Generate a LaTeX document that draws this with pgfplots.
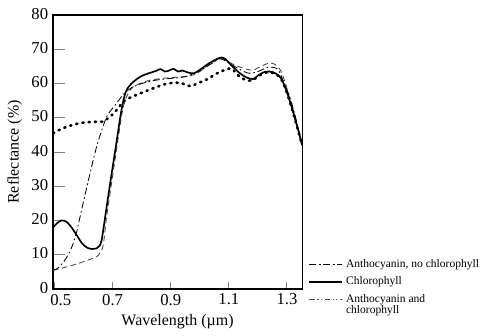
\documentclass[border=0pt]{standalone}
\usepackage{fontspec}
\setmainfont{Liberation Serif}
\usepackage{pgfplots}
\pgfplotsset{compat=1.18}
\begin{document}
\begin{tikzpicture}
\path[use as bounding box] (-38.2pt,-33.8pt) rectangle (311pt,208.1pt);
\begin{axis}[
  scale only axis,
  width=179.3pt, height=197.3pt,
  xmin=0.495, xmax=1.352, ymin=0, ymax=80,
  xtick={0.5,0.7,0.9,1.1,1.3},
  ytick={0,10,20,30,40,50,60,70,80},
  xticklabels={\hphantom{0.}0.5,0.7,0.9,1.1,1.3},
  tick align=inside,
  xtick pos=bottom, ytick pos=left,
  xtick style={/pgfplots/major tick length=5pt, line width=0.7pt},
  ytick style={/pgfplots/major tick length=8.6pt, line width=0.7pt},
  axis line style={line width=0.8pt},
  /pgf/number format/assume math mode=true,
  tick label style={font=\fontsize{12}{14}\selectfont},
  yticklabel style={yshift=1pt},
  label style={font=\fontsize{11.5}{13}\selectfont},
  xlabel={Wavelength (µm)},
  ylabel={Reflectance (\%)},
  legend style={at={(1.024,0.12)}, anchor=north west, draw=none, fill=none,
    font=\fontsize{8.3}{7.6}\selectfont, cells={anchor=west, align=left},
    row sep=1.5pt, inner sep=0pt},
  legend image code/.code={\draw[#1] (0pt,0pt) -- (24pt,0pt);},
]
\addlegendimage{black, line width=0.6pt, dash pattern=on 5pt off 2pt on 1.2pt off 2pt}
\addlegendentry{Anthocyanin, no chlorophyll}
\addlegendimage{black, line width=1.2pt}
\addlegendentry{Chlorophyll}
\addlegendimage{black!70, line width=0.6pt, yshift=3.7pt, dash pattern=on 4pt off 2pt on 0.8pt off 1.5pt on 0.8pt off 2pt}
\addlegendentry{Anthocyanin and\\chlorophyll}

% dotted (no legend entry)
\addplot[forget plot, black, line width=1.9pt, line cap=round, dash pattern=on 0.9pt off 3.6pt, smooth] coordinates {
(0.495,45.5) (0.52,46.6) (0.55,47.6) (0.576,48.2) (0.60,48.6) (0.63,48.8) (0.666,48.9)
(0.68,49.6) (0.70,51.0) (0.714,52.3) (0.741,55.0) (0.769,56.2) (0.80,57.3) (0.852,59.0)
(0.88,59.8) (0.907,60.2) (0.93,60.2) (0.955,59.6) (0.97,59.2) (0.99,60.0) (1.024,61.2)
(1.06,63.0) (1.093,64.2) (1.11,64.3) (1.125,63.0) (1.14,61.8) (1.16,61.0) (1.179,60.9)
(1.20,62.0) (1.22,63.0) (1.24,63.3) (1.26,62.8) (1.28,61.3) (1.30,57.3) (1.32,51.8) (1.34,45.8) (1.352,42)
};
% dashed: Anthocyanin and chlorophyll
\addplot[forget plot, black!75, line width=0.6pt, dash pattern=on 4pt off 2.5pt, smooth] coordinates {
(0.495,5.5) (0.53,6.2) (0.56,6.9) (0.597,7.9) (0.62,8.6) (0.645,9.4) (0.658,10.8)
(0.668,13) (0.68,21.5) (0.70,33) (0.72,44.5) (0.735,52.5) (0.75,56.5) (0.77,59.0)
(0.817,60.7) (0.87,61.5) (0.93,61.9) (0.97,62.3) (1.00,63.5) (1.04,66.0) (1.07,67.3)
(1.09,66.8) (1.11,65.8) (1.138,64.8) (1.16,64.2) (1.183,63.9) (1.21,65.0) (1.24,66.0)
(1.26,65.5) (1.28,63.5) (1.30,58.5) (1.32,52.5) (1.34,46) (1.352,42)
};
% dash-dot: Anthocyanin, no chlorophyll
\addplot[forget plot, black, line width=0.6pt, dash pattern=on 5pt off 2pt on 1.2pt off 2pt, smooth] coordinates {
(0.495,5.5) (0.51,6.0) (0.528,7.6) (0.54,9.0) (0.552,10.8) (0.565,13.5) (0.576,16.6)
(0.597,24.5) (0.621,33.3) (0.64,40.0) (0.655,44.4) (0.679,50.2) (0.70,52.8) (0.714,54.3)
(0.741,57.2) (0.77,59.0) (0.80,60.0) (0.85,61.0) (0.90,61.5) (0.95,62.0) (1.00,63.7)
(1.04,65.8) (1.07,67.2) (1.10,66.0) (1.14,64.0) (1.17,63.0) (1.20,63.5) (1.24,64.8)
(1.27,64.0) (1.29,60.0) (1.31,56) (1.33,50) (1.352,42)
};
% solid: Chlorophyll
\addplot[forget plot, black, line width=1.2pt, smooth, tension=0.5] coordinates {
(0.495,18.0) (0.51,19.3) (0.524,20.0) (0.54,19.7) (0.555,18.4) (0.576,15.8) (0.595,13.3)
(0.614,12.0) (0.63,11.7) (0.645,11.9) (0.655,12.6) (0.662,14.2) (0.67,18.5) (0.69,30)
(0.71,41) (0.73,52) (0.745,57.5) (0.765,60.0) (0.80,62.2) (0.85,63.7)
(0.865,64.2) (0.88,63.5) (0.895,63.8) (0.91,64.3) (0.925,63.5) (0.94,63.8) (0.96,63.2)
(0.98,63.0) (1.00,64.0) (1.03,65.8) (1.06,67.2) (1.076,67.6) (1.09,67.0) (1.11,65.2)
(1.138,63.0) (1.16,61.8) (1.183,61.3) (1.20,62.3) (1.22,63.3) (1.24,63.5) (1.26,63.0)
(1.28,61.5) (1.30,57.5) (1.32,52) (1.34,46) (1.352,42)
};
\end{axis}
\end{tikzpicture}
\end{document}
